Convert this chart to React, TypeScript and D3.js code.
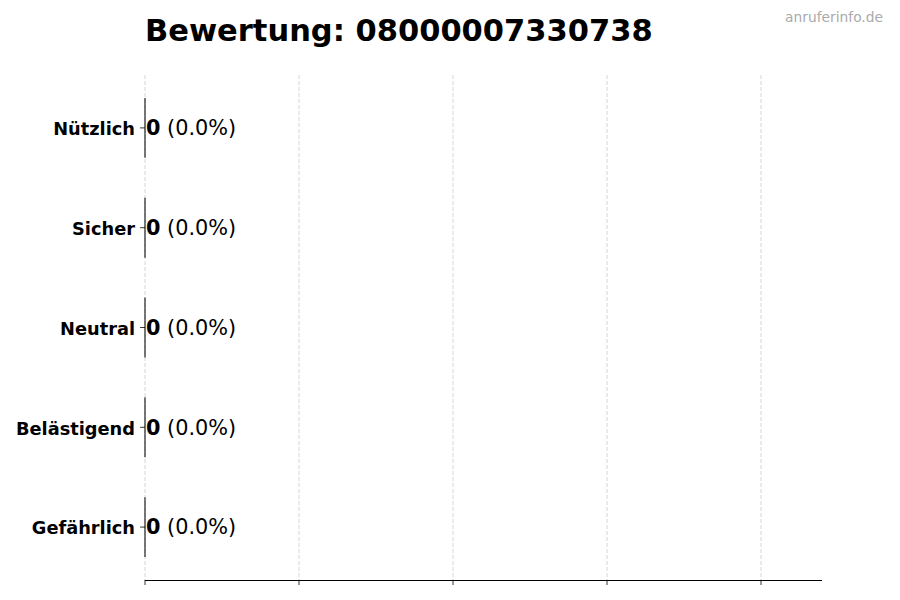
import * as d3 from "d3";
import React from "react";

// Ratings from top to bottom as shown
const categories = ["Nützlich", "Sicher", "Neutral", "Belästigend", "Gefährlich"];
const counts = [0, 0, 0, 0, 0];
const xTicks = [0, 1, 2, 3, 4];

const title = "Bewertung: 08000007330738";
const watermark = "anruferinfo.de";

const width = 900;
const height = 600;
const left = 145;
const right = 822;
const top = 75;
const bottom = 580;
const font = "DejaVu Sans, sans-serif";

export default function App() {
  const total = d3.sum(counts);
  const x = d3.scaleLinear().domain([0, 4.396]).range([left, right]);
  // index 0 at the bottom, like matplotlib barh
  const y = d3.scaleLinear().domain([-0.53, categories.length - 1 + 0.53]).range([bottom, top]);
  const barH = y(0) - y(0.6);

  return (
    <svg width={width} height={height} style={{ display: "block", margin: -8 }} fontFamily={font}>
      <rect width={width} height={height} fill="white" />
      <text x={left} y={41} fontSize={30.5} fontWeight="bold" fill="#000">
        {title}
      </text>
      <text x={883} y={22} fontSize={13.8} fill="#aaaaaa" textAnchor="end">
        {watermark}
      </text>

      {xTicks.map((t) => (
        <line
          key={"g" + t}
          x1={x(t)}
          x2={x(t)}
          y1={top}
          y2={bottom}
          stroke="#cccccc"
          strokeWidth={0.8}
          strokeDasharray="4,2"
        />
      ))}

      {categories.map((c, i) => {
        const yi = y(categories.length - 1 - i);
        const v = counts[i];
        const pct = total > 0 ? (v / total) * 100 : 0;
        const w = x(v) - x(0);
        return (
          <g key={c}>
            {w > 0 && (
              <rect x={x(0)} y={yi - barH / 2} width={w} height={barH} fill="#4c72b0" stroke="#333" strokeWidth={1} />
            )}
            {/* zero-width bar still shows its edge */}
            <line x1={x(0)} x2={x(0)} y1={yi - barH / 2} y2={yi + barH / 2} stroke="#222" strokeWidth={1.2} />
            <line x1={x(0)} x2={x(0) - 4.9} y1={yi} y2={yi} stroke="#000" strokeWidth={0.8} />
            <text x={135} y={yi + 1} dy="0.35em" textAnchor="end" fontSize={17.8} fontWeight="bold" fill="#000">
              {c}
            </text>
            <text x={x(v) + 1} y={yi} dy="0.35em" fontSize={20.8} fill="#000">
              <tspan fontWeight="bold">{v}</tspan>
              <tspan> ({pct.toFixed(1)}%)</tspan>
            </text>
          </g>
        );
      })}

      <line x1={left} x2={right} y1={bottom + 0.5} y2={bottom + 0.5} stroke="#000" strokeWidth={1.2} />
      {xTicks.map((t) => (
        <line key={"t" + t} x1={x(t)} x2={x(t)} y1={bottom} y2={bottom + 5} stroke="#000" strokeWidth={0.8} />
      ))}
    </svg>
  );
}
